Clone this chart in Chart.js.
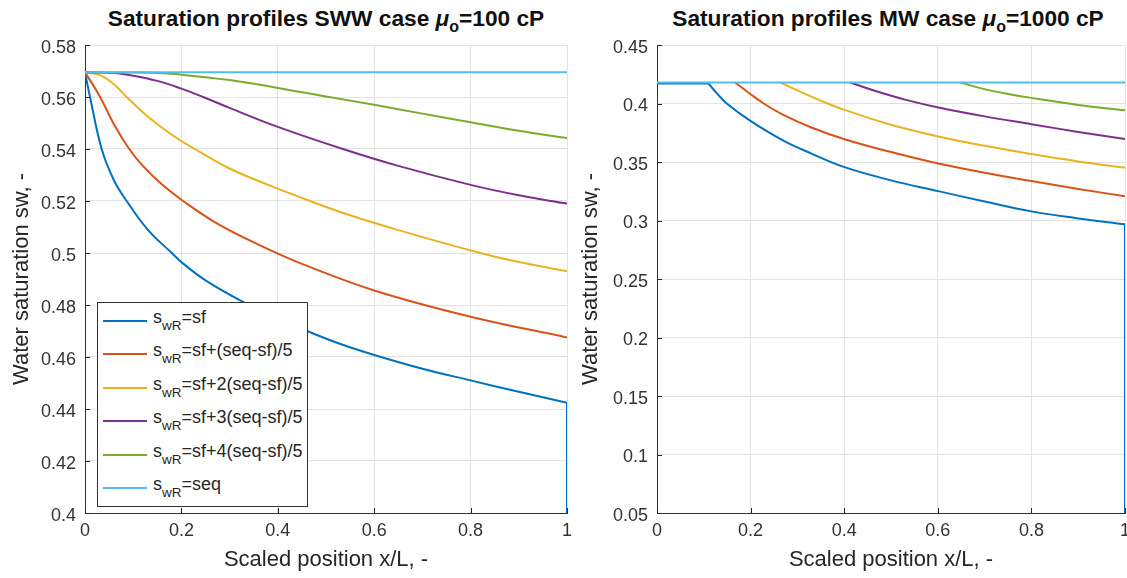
<!DOCTYPE html>
<html>
<head>
<meta charset="utf-8">
<script src="https://cdn.jsdelivr.net/npm/chart.js@4.4.1/dist/chart.umd.min.js"></script>
<style>
  html, body { margin: 0; padding: 0; background: #fff; overflow: hidden; }
  body { width: 1127px; height: 578px; position: relative; font-family: "Liberation Sans", Arial, sans-serif; color: #262626; }
  .panel { position: absolute; top: 0; height: 578px; }
  #leftPanel { left: 0; width: 572px; }
  #rightPanel { left: 570px; width: 557px; }
  .title { position: absolute; top: 5px; font-size: 22.7px; line-height: 27px; font-weight: bold; white-space: nowrap; transform: translateX(-50%); color: #111; }
  .title sub { font-size: 16px; line-height: 0; vertical-align: -6px; }
  .legend { position: absolute; left: 97px; top: 302px; width: 211px; height: 205px; border: 1px solid #333; background: #fff; box-sizing: border-box; }
  .legend .row { position: absolute; left: 5px; height: 24px; font-size: 18px; line-height: 24px; white-space: nowrap; color: #262626; }
  .legend .swatch { position: absolute; left: 0; top: 11px; width: 44px; height: 2px; }
  .legend .label { position: absolute; left: 50px; top: -4px; }
  .legend sub { font-size: 13.5px; line-height: 0; vertical-align: -7px; }
</style>
</head>
<body>
<div class="title" style="left:326px">Saturation profiles SWW case <i>μ</i><sub>o</sub>=100 cP</div>
<div class="title" style="left:888px">Saturation profiles MW case <i>μ</i><sub>o</sub>=1000 cP</div>
<div class="panel" id="leftPanel"><canvas id="sww"></canvas></div>
<div class="panel" id="rightPanel"><canvas id="mw"></canvas></div>
<div class="legend" id="legend"></div>

<script>
// SWW case, mu_o = 100 cP
const swwX_sf  = [0, 0.0104, 0.0346, 0.06, 0.0865, 0.13, 0.18, 0.2, 0.25, 0.33, 0.4, 0.463, 0.53, 0.6, 0.7, 0.8, 0.9, 1];
const swwY_sf  = [0.5695, 0.56, 0.54, 0.528, 0.52, 0.509, 0.5, 0.4965, 0.4895, 0.481, 0.4747, 0.4698, 0.465, 0.4608, 0.4555, 0.451, 0.4466, 0.4424];
const swwX_sfDrop = [1, 1];
const swwY_sfDrop = [0.4424, 0.4];
const swwX_sf1 = [0, 0.03, 0.06, 0.09, 0.12, 0.16, 0.2, 0.27, 0.36, 0.45, 0.6, 0.8, 1];
const swwY_sf1 = [0.5695, 0.5605, 0.5495, 0.5405, 0.5335, 0.5263, 0.5205, 0.5118, 0.5032, 0.4958, 0.4856, 0.4755, 0.4675];
const swwX_sf2 = [0, 0.029, 0.057, 0.0865, 0.13, 0.18, 0.228, 0.3, 0.38, 0.467, 0.55, 0.65, 0.82, 0.9, 1];
const swwY_sf2 = [0.5695, 0.5686, 0.5654, 0.56, 0.5525, 0.5455, 0.54, 0.5325, 0.5262, 0.52, 0.5145, 0.5088, 0.5, 0.4965, 0.493];
const swwX_sf3 = [0, 0.06, 0.1, 0.15, 0.2, 0.245, 0.3, 0.4, 0.535, 0.65, 0.8, 0.9, 1];
const swwY_sf3 = [0.5695, 0.5692, 0.5682, 0.5662, 0.5632, 0.56, 0.5558, 0.5485, 0.54, 0.5335, 0.5262, 0.5222, 0.519];
const swwX_sf4 = [0, 0.1, 0.15, 0.2, 0.3, 0.4, 0.5, 0.6, 0.7, 0.8, 0.9, 1];
const swwY_sf4 = [0.5695, 0.5694, 0.5692, 0.5686, 0.5665, 0.5635, 0.5602, 0.557, 0.5536, 0.5503, 0.547, 0.5442];
const swwX_seq = [0, 1];
const swwY_seq = [0.5695, 0.5695];

// MW case, mu_o = 1000 cP (sf has a flat part before the front)
const mwX_sfFlat = [0, 0.11];
const mwY_sfFlat = [0.4172, 0.4172];
const mwX_sf  = [0.11, 0.128, 0.149, 0.198, 0.27, 0.33, 0.399, 0.5, 0.601, 0.7, 0.8, 0.9, 1];
const mwY_sf  = [0.4172, 0.4086, 0.4, 0.3856, 0.3683, 0.3572, 0.3458, 0.3343, 0.3251, 0.3162, 0.3078, 0.3018, 0.2968];
const mwX_sfDrop = [1, 1];
const mwY_sfDrop = [0.2968, 0.05];
const mwX_sf1 = [0.167, 0.198, 0.228, 0.27, 0.33, 0.399, 0.5, 0.601, 0.7, 0.8, 0.9, 1];
const mwY_sf1 = [0.418, 0.4086, 0.4, 0.3903, 0.3795, 0.3697, 0.3585, 0.3487, 0.3408, 0.3337, 0.327, 0.3207];
const mwX_sf2 = [0.263, 0.306, 0.35, 0.399, 0.5, 0.601, 0.7, 0.8, 0.9, 1];
const mwY_sf2 = [0.418, 0.4101, 0.4025, 0.3948, 0.3818, 0.3718, 0.3638, 0.3568, 0.3505, 0.3452];
const mwX_sf3 = [0.413, 0.46, 0.53, 0.601, 0.7, 0.8, 0.9, 1];
const mwY_sf3 = [0.418, 0.4115, 0.4033, 0.3966, 0.389, 0.3823, 0.3757, 0.3697];
const mwX_sf4 = [0.648, 0.697, 0.75, 0.8, 0.9, 1];
const mwY_sf4 = [0.418, 0.4125, 0.4082, 0.4048, 0.3988, 0.3942];
const mwX_seq = [0, 1];
const mwY_seq = [0.418, 0.418];

const legendLabels = ['=sf', '=sf+(seq-sf)/5', '=sf+2(seq-sf)/5', '=sf+3(seq-sf)/5', '=sf+4(seq-sf)/5', '=seq'];
const lineColors = ['#0072BD', '#D95319', '#EDB120', '#7E2F8E', '#77AC30', '#4DBEEE'];

Chart.defaults.font.family = '"Liberation Sans", Arial, sans-serif';
Chart.defaults.color = '#333';

const toPoints = (xs, ys) => xs.map((x, i) => ({ x: x, y: ys[i] }));

// series index -> colour; seq drawn on top like in MATLAB
function makeDataset(xs, ys, idx) {
    return {
        data: toPoints(xs, ys),
        borderColor: lineColors[idx],
        borderWidth: 2,
        pointRadius: 0,
        fill: false,
        tension: 0.4,
        order: 10 - idx,
    };
}

// MATLAB style ticks pointing into the axes
const innerTicks = {
    id: 'innerTicks',
    afterDatasetsDraw(chart) {
        const { ctx, chartArea: a } = chart;
        const x = chart.scales.x, y = chart.scales.y;
        ctx.save();
        ctx.strokeStyle = '#262626';
        ctx.lineWidth = 1;
        ctx.beginPath();
        x.ticks.forEach(t => {
            const px = Math.round(x.getPixelForValue(t.value)) + 0.5;
            ctx.moveTo(px, a.bottom); ctx.lineTo(px, a.bottom - 5);
        });
        y.ticks.forEach(t => {
            const py = Math.round(y.getPixelForValue(t.value)) + 0.5;
            ctx.moveTo(a.left, py); ctx.lineTo(a.left + 5, py);
        });
        ctx.stroke();
        ctx.restore();
    }
};

function makeChart(canvasId, datasets, yMin, yMax, yStep, yWidth, rightPad, yTitlePad) {
    return new Chart(document.getElementById(canvasId), {
        type: 'line',
        data: { datasets: datasets },
        options: {
            responsive: true,
            maintainAspectRatio: false,
            animation: false,
            layout: { padding: { top: 45, right: rightPad, bottom: 0, left: 0 } },
            plugins: { legend: { display: false }, tooltip: { enabled: false } },
            scales: {
                x: {
                    type: 'linear',
                    min: 0, max: 1,
                    ticks: { stepSize: 0.2, padding: 7, font: { size: 18 }, callback: v => String(+v.toFixed(1)) },
                    grid: { color: '#e2e2e2', drawTicks: false },
                    border: { color: '#333', width: 1 },
                    title: { display: true, text: 'Scaled position x/L, -', font: { size: 22 }, color: '#262626', padding: { top: 0, bottom: 5 } },
                    afterFit(scale) { scale.height = 65; scale.paddingRight = 0; scale.paddingLeft = 0; }
                },
                y: {
                    min: yMin, max: yMax,
                    ticks: { stepSize: yStep, padding: 9, labelOffset: 3, font: { size: 18 }, callback: v => String(+v.toFixed(2)) },
                    grid: { color: '#e2e2e2', drawTicks: false },
                    border: { color: '#333', width: 1 },
                    title: { display: true, text: 'Water saturation sw, -', font: { size: 22 }, color: '#262626', padding: { top: yTitlePad, bottom: 0 } },
                    afterFit(scale) { scale.width = yWidth; }
                }
            }
        },
        plugins: [innerTicks]
    });
}

const swwData = [
    makeDataset(swwX_sf, swwY_sf, 0),
    makeDataset(swwX_sfDrop, swwY_sfDrop, 0),
    makeDataset(swwX_sf1, swwY_sf1, 1),
    makeDataset(swwX_sf2, swwY_sf2, 2),
    makeDataset(swwX_sf3, swwY_sf3, 3),
    makeDataset(swwX_sf4, swwY_sf4, 4),
    makeDataset(swwX_seq, swwY_seq, 5),
];
const mwData = [
    makeDataset(mwX_sfFlat, mwY_sfFlat, 0),
    makeDataset(mwX_sf, mwY_sf, 0),
    makeDataset(mwX_sfDrop, mwY_sfDrop, 0),
    makeDataset(mwX_sf1, mwY_sf1, 1),
    makeDataset(mwX_sf2, mwY_sf2, 2),
    makeDataset(mwX_sf3, mwY_sf3, 3),
    makeDataset(mwX_sf4, mwY_sf4, 4),
    makeDataset(mwX_seq, mwY_seq, 5),
];

makeChart('sww', swwData, 0.4, 0.58, 0.02, 85, 5, 9);
makeChart('mw', mwData, 0.05, 0.45, 0.05, 87, 2, 8);

// legend with s_wR subscripts
const legend = document.getElementById('legend');
legendLabels.forEach((txt, i) => {
    const row = document.createElement('div');
    row.className = 'row';
    row.style.top = (6 + i * 33.4) + 'px';
    const sw = document.createElement('div');
    sw.className = 'swatch';
    sw.style.background = lineColors[i];
    const lab = document.createElement('span');
    lab.className = 'label';
    lab.innerHTML = 's<sub>wR</sub>' + txt;
    row.appendChild(sw);
    row.appendChild(lab);
    legend.appendChild(row);
});
</script>
</body>
</html>
